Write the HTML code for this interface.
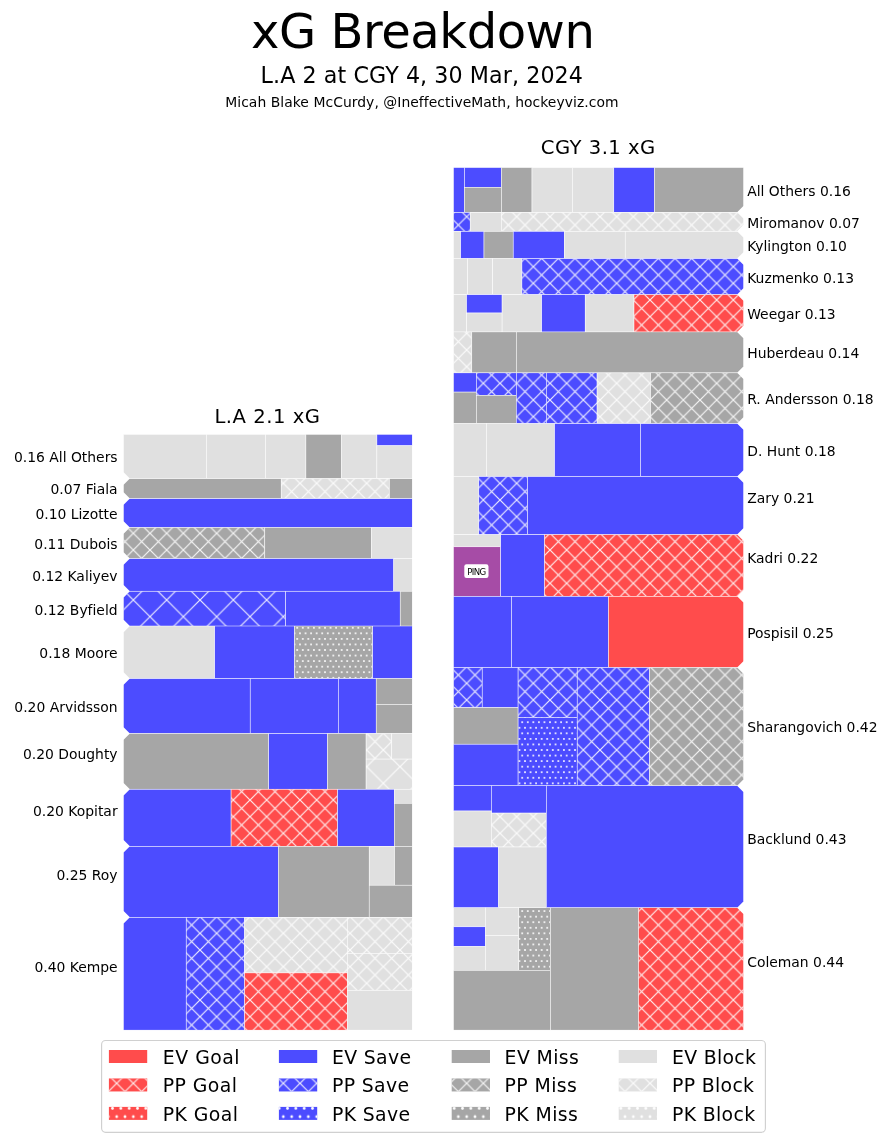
<!DOCTYPE html>
<html><head><meta charset="utf-8"><title>xG Breakdown</title>
<style>
html,body{margin:0;padding:0;background:#fff;}
svg{display:block;will-change:transform;}
text{font-family:"DejaVu Sans","Liberation Sans",sans-serif;fill:#000;font-variant-ligatures:none;font-feature-settings:"liga" 0,"clig" 0;}
.lb{font-size:13.9px;}
</style></head><body>
<svg width="891" height="1142" viewBox="0 0 891 1142">
<defs><pattern id="hxx" patternUnits="userSpaceOnUse" x="0" y="0" width="16.6667" height="16.6667"><path d="M-2,14.6667L18.6667,35.3333M-2,-2L18.6667,18.6667M-2,-18.6667L18.6667,2M-2,2L18.6667,-18.6667M-2,18.6667L18.6667,-2M-2,35.3333L18.6667,14.6667" stroke="#fff" stroke-opacity="0.88" stroke-width="1.2" fill="none"/></pattern>
<pattern id="hx" patternUnits="userSpaceOnUse" x="0" y="0" width="33.3333" height="33.3333"><path d="M-2,31.3333L35.3333,68.6667M-2,-2L35.3333,35.3333M-2,-35.3333L35.3333,2M-2,2L35.3333,-35.3333M-2,35.3333L35.3333,-2M-2,68.6667L35.3333,31.3333" stroke="#fff" stroke-opacity="0.88" stroke-width="1.2" fill="none"/></pattern>
<pattern id="hdots" patternUnits="userSpaceOnUse" x="0" y="0" width="5.5556" height="11.1111"><circle cx="0" cy="0" r="1" fill="#fff"/><circle cx="5.5556" cy="0" r="1" fill="#fff"/><circle cx="0" cy="11.1111" r="1" fill="#fff"/><circle cx="5.5556" cy="11.1111" r="1" fill="#fff"/><circle cx="2.7778" cy="5.5556" r="1" fill="#fff"/></pattern>
<pattern id="hdots2" patternUnits="userSpaceOnUse" x="0" y="0" width="8.3333" height="16.6667"><circle cx="0" cy="0" r="1.4" fill="#fff"/><circle cx="8.3333" cy="0" r="1.4" fill="#fff"/><circle cx="0" cy="16.6667" r="1.4" fill="#fff"/><circle cx="8.3333" cy="16.6667" r="1.4" fill="#fff"/><circle cx="4.1667" cy="8.3333" r="1.4" fill="#fff"/></pattern>
<clipPath id="c0"><polygon points="453.4,167.4 743.65,167.4 743.65,167.4 743.65,205.85 737.15,212.35 453.4,212.35"/></clipPath>
<clipPath id="c1"><polygon points="453.4,212.35 737.15,212.35 743.65,218.85 743.65,224.8 737.15,231.3 453.4,231.3"/></clipPath>
<clipPath id="c2"><polygon points="453.4,231.3 737.15,231.3 743.65,237.8 743.65,252 737.15,258.5 453.4,258.5"/></clipPath>
<clipPath id="c3"><polygon points="453.4,258.5 737.15,258.5 743.65,265 743.65,288.1 737.15,294.6 453.4,294.6"/></clipPath>
<clipPath id="c4"><polygon points="453.4,294.6 737.15,294.6 743.65,301.1 743.65,325.4 737.15,331.9 453.4,331.9"/></clipPath>
<clipPath id="c5"><polygon points="453.4,331.9 737.15,331.9 743.65,338.4 743.65,366.35 737.15,372.85 453.4,372.85"/></clipPath>
<clipPath id="c6"><polygon points="453.4,372.85 737.15,372.85 743.65,379.35 743.65,417 737.15,423.5 453.4,423.5"/></clipPath>
<clipPath id="c7"><polygon points="453.4,423.5 737.15,423.5 743.65,430 743.65,469.9 737.15,476.4 453.4,476.4"/></clipPath>
<clipPath id="c8"><polygon points="453.4,476.4 737.15,476.4 743.65,482.9 743.65,528.1 737.15,534.6 453.4,534.6"/></clipPath>
<clipPath id="c9"><polygon points="453.4,534.6 737.15,534.6 743.65,541.1 743.65,589.8 737.15,596.3 453.4,596.3"/></clipPath>
<clipPath id="c10"><polygon points="453.4,596.3 737.15,596.3 743.65,602.8 743.65,660.9 737.15,667.4 453.4,667.4"/></clipPath>
<clipPath id="c11"><polygon points="453.4,667.4 737.15,667.4 743.65,673.9 743.65,779.2 737.15,785.7 453.4,785.7"/></clipPath>
<clipPath id="c12"><polygon points="453.4,785.7 737.15,785.7 743.65,792.2 743.65,901.2 737.15,907.7 453.4,907.7"/></clipPath>
<clipPath id="c13"><polygon points="453.4,907.7 737.15,907.7 743.65,914.2 743.65,1030.15 743.65,1030.15 453.4,1030.15"/></clipPath>
<clipPath id="l0"><polygon points="123.35,434.3 412.3,434.3 412.3,478.6 129.85,478.6 123.35,472.1 123.35,434.3"/></clipPath>
<clipPath id="l1"><polygon points="129.85,478.6 412.3,478.6 412.3,498.6 129.85,498.6 123.35,492.1 123.35,485.1"/></clipPath>
<clipPath id="l2"><polygon points="129.85,498.6 412.3,498.6 412.3,527.4 129.85,527.4 123.35,520.9 123.35,505.1"/></clipPath>
<clipPath id="l3"><polygon points="129.85,527.4 412.3,527.4 412.3,558.5 129.85,558.5 123.35,552 123.35,533.9"/></clipPath>
<clipPath id="l4"><polygon points="129.85,558.5 412.3,558.5 412.3,591.2 129.85,591.2 123.35,584.7 123.35,565"/></clipPath>
<clipPath id="l5"><polygon points="129.85,591.2 412.3,591.2 412.3,626 129.85,626 123.35,619.5 123.35,597.7"/></clipPath>
<clipPath id="l6"><polygon points="129.85,626 412.3,626 412.3,678.5 129.85,678.5 123.35,672 123.35,632.5"/></clipPath>
<clipPath id="l7"><polygon points="129.85,678.5 412.3,678.5 412.3,733.4 129.85,733.4 123.35,726.9 123.35,685"/></clipPath>
<clipPath id="l8"><polygon points="129.85,733.4 412.3,733.4 412.3,789.2 129.85,789.2 123.35,782.7 123.35,739.9"/></clipPath>
<clipPath id="l9"><polygon points="129.85,789.2 412.3,789.2 412.3,846.3 129.85,846.3 123.35,839.8 123.35,795.7"/></clipPath>
<clipPath id="l10"><polygon points="129.85,846.3 412.3,846.3 412.3,917.3 129.85,917.3 123.35,910.8 123.35,852.8"/></clipPath>
<clipPath id="l11"><polygon points="129.85,917.3 412.3,917.3 412.3,1030.15 123.35,1030.15 123.35,1030.15 123.35,923.8"/></clipPath></defs>
<g clip-path="url(#c0)"><rect x="453.4" y="167.4" width="11" height="44.95" fill="#4C4CFF"/><rect x="453.4" y="167.4" width="11" height="44.95" fill="none" stroke="#fff" stroke-width="0.5"/><rect x="464.4" y="167.4" width="37" height="19.9" fill="#4C4CFF"/><rect x="464.4" y="167.4" width="37" height="19.9" fill="none" stroke="#fff" stroke-width="0.5"/><rect x="464.4" y="187.3" width="37" height="25.05" fill="#A6A6A6"/><rect x="464.4" y="187.3" width="37" height="25.05" fill="none" stroke="#fff" stroke-width="0.5"/><rect x="501.4" y="167.4" width="30.6" height="44.95" fill="#A6A6A6"/><rect x="501.4" y="167.4" width="30.6" height="44.95" fill="none" stroke="#fff" stroke-width="0.5"/><rect x="532" y="167.4" width="40.4" height="44.95" fill="#E0E0E0"/><rect x="532" y="167.4" width="40.4" height="44.95" fill="none" stroke="#fff" stroke-width="0.5"/><rect x="572.4" y="167.4" width="41.4" height="44.95" fill="#E0E0E0"/><rect x="572.4" y="167.4" width="41.4" height="44.95" fill="none" stroke="#fff" stroke-width="0.5"/><rect x="613.8" y="167.4" width="40.7" height="44.95" fill="#4C4CFF"/><rect x="613.8" y="167.4" width="40.7" height="44.95" fill="none" stroke="#fff" stroke-width="0.5"/><rect x="654.5" y="167.4" width="89.15" height="44.95" fill="#A6A6A6"/><rect x="654.5" y="167.4" width="89.15" height="44.95" fill="none" stroke="#fff" stroke-width="0.5"/></g>
<text x="747.2" y="195.8" class="lb">All Others 0.16</text>
<g clip-path="url(#c1)"><rect x="453.4" y="212.35" width="16.8" height="18.95" fill="#4C4CFF"/><rect x="453.4" y="212.35" width="16.8" height="18.95" fill="url(#hxx)"/><rect x="453.4" y="212.35" width="16.8" height="18.95" fill="none" stroke="#fff" stroke-width="0.5"/><rect x="470.2" y="212.35" width="31.1" height="18.95" fill="#E0E0E0"/><rect x="470.2" y="212.35" width="31.1" height="18.95" fill="none" stroke="#fff" stroke-width="0.5"/><rect x="501.3" y="212.35" width="242.35" height="18.95" fill="#E0E0E0"/><rect x="501.3" y="212.35" width="242.35" height="18.95" fill="url(#hxx)"/><rect x="501.3" y="212.35" width="242.35" height="18.95" fill="none" stroke="#fff" stroke-width="0.5"/></g>
<text x="747.2" y="227.5" class="lb">Miromanov 0.07</text>
<g clip-path="url(#c2)"><rect x="453.4" y="231.3" width="7.3" height="27.2" fill="#E0E0E0"/><rect x="453.4" y="231.3" width="7.3" height="27.2" fill="none" stroke="#fff" stroke-width="0.5"/><rect x="460.7" y="231.3" width="23.3" height="27.2" fill="#4C4CFF"/><rect x="460.7" y="231.3" width="23.3" height="27.2" fill="none" stroke="#fff" stroke-width="0.5"/><rect x="484" y="231.3" width="29.2" height="27.2" fill="#A6A6A6"/><rect x="484" y="231.3" width="29.2" height="27.2" fill="none" stroke="#fff" stroke-width="0.5"/><rect x="513.2" y="231.3" width="51.1" height="27.2" fill="#4C4CFF"/><rect x="513.2" y="231.3" width="51.1" height="27.2" fill="none" stroke="#fff" stroke-width="0.5"/><rect x="564.3" y="231.3" width="60.9" height="27.2" fill="#E0E0E0"/><rect x="564.3" y="231.3" width="60.9" height="27.2" fill="none" stroke="#fff" stroke-width="0.5"/><rect x="625.2" y="231.3" width="118.45" height="27.2" fill="#E0E0E0"/><rect x="625.2" y="231.3" width="118.45" height="27.2" fill="none" stroke="#fff" stroke-width="0.5"/></g>
<text x="747.2" y="251" class="lb">Kylington 0.10</text>
<g clip-path="url(#c3)"><rect x="453.4" y="258.5" width="14.2" height="36.1" fill="#E0E0E0"/><rect x="453.4" y="258.5" width="14.2" height="36.1" fill="none" stroke="#fff" stroke-width="0.5"/><rect x="467.6" y="258.5" width="25.1" height="36.1" fill="#E0E0E0"/><rect x="467.6" y="258.5" width="25.1" height="36.1" fill="none" stroke="#fff" stroke-width="0.5"/><rect x="492.7" y="258.5" width="29.2" height="36.1" fill="#E0E0E0"/><rect x="492.7" y="258.5" width="29.2" height="36.1" fill="none" stroke="#fff" stroke-width="0.5"/><rect x="521.9" y="258.5" width="221.75" height="36.1" fill="#4C4CFF"/><rect x="521.9" y="258.5" width="221.75" height="36.1" fill="url(#hxx)"/><rect x="521.9" y="258.5" width="221.75" height="36.1" fill="none" stroke="#fff" stroke-width="0.5"/></g>
<text x="747.2" y="282.9" class="lb">Kuzmenko 0.13</text>
<g clip-path="url(#c4)"><rect x="453.4" y="294.6" width="13.2" height="37.3" fill="#E0E0E0"/><rect x="453.4" y="294.6" width="13.2" height="37.3" fill="none" stroke="#fff" stroke-width="0.5"/><rect x="466.6" y="294.6" width="35.5" height="18.4" fill="#4C4CFF"/><rect x="466.6" y="294.6" width="35.5" height="18.4" fill="none" stroke="#fff" stroke-width="0.5"/><rect x="466.6" y="313" width="35.5" height="18.9" fill="#E0E0E0"/><rect x="466.6" y="313" width="35.5" height="18.9" fill="none" stroke="#fff" stroke-width="0.5"/><rect x="502.1" y="294.6" width="39.6" height="37.3" fill="#E0E0E0"/><rect x="502.1" y="294.6" width="39.6" height="37.3" fill="none" stroke="#fff" stroke-width="0.5"/><rect x="541.7" y="294.6" width="43.5" height="37.3" fill="#4C4CFF"/><rect x="541.7" y="294.6" width="43.5" height="37.3" fill="none" stroke="#fff" stroke-width="0.5"/><rect x="585.2" y="294.6" width="48.8" height="37.3" fill="#E0E0E0"/><rect x="585.2" y="294.6" width="48.8" height="37.3" fill="none" stroke="#fff" stroke-width="0.5"/><rect x="634" y="294.6" width="109.65" height="37.3" fill="#FF4C4C"/><rect x="634" y="294.6" width="109.65" height="37.3" fill="url(#hxx)"/><rect x="634" y="294.6" width="109.65" height="37.3" fill="none" stroke="#fff" stroke-width="0.5"/></g>
<text x="747.2" y="318.5" class="lb">Weegar 0.13</text>
<g clip-path="url(#c5)"><rect x="453.4" y="331.9" width="18.4" height="40.95" fill="#E0E0E0"/><rect x="453.4" y="331.9" width="18.4" height="40.95" fill="url(#hxx)"/><rect x="453.4" y="331.9" width="18.4" height="40.95" fill="none" stroke="#fff" stroke-width="0.5"/><rect x="471.8" y="331.9" width="44.5" height="40.95" fill="#A6A6A6"/><rect x="471.8" y="331.9" width="44.5" height="40.95" fill="none" stroke="#fff" stroke-width="0.5"/><rect x="516.3" y="331.9" width="227.35" height="40.95" fill="#A6A6A6"/><rect x="516.3" y="331.9" width="227.35" height="40.95" fill="none" stroke="#fff" stroke-width="0.5"/></g>
<text x="747.2" y="357.8" class="lb">Huberdeau 0.14</text>
<g clip-path="url(#c6)"><rect x="453.4" y="372.85" width="22.9" height="19.25" fill="#4C4CFF"/><rect x="453.4" y="372.85" width="22.9" height="19.25" fill="none" stroke="#fff" stroke-width="0.5"/><rect x="453.4" y="392.1" width="22.9" height="31.4" fill="#A6A6A6"/><rect x="453.4" y="392.1" width="22.9" height="31.4" fill="none" stroke="#fff" stroke-width="0.5"/><rect x="476.3" y="372.85" width="40" height="22.45" fill="#4C4CFF"/><rect x="476.3" y="372.85" width="40" height="22.45" fill="url(#hxx)"/><rect x="476.3" y="372.85" width="40" height="22.45" fill="none" stroke="#fff" stroke-width="0.5"/><rect x="476.3" y="395.3" width="40" height="28.2" fill="#A6A6A6"/><rect x="476.3" y="395.3" width="40" height="28.2" fill="none" stroke="#fff" stroke-width="0.5"/><rect x="516.3" y="372.85" width="30" height="50.65" fill="#4C4CFF"/><rect x="516.3" y="372.85" width="30" height="50.65" fill="url(#hxx)"/><rect x="516.3" y="372.85" width="30" height="50.65" fill="none" stroke="#fff" stroke-width="0.5"/><rect x="546.3" y="372.85" width="50.8" height="50.65" fill="#4C4CFF"/><rect x="546.3" y="372.85" width="50.8" height="50.65" fill="url(#hxx)"/><rect x="546.3" y="372.85" width="50.8" height="50.65" fill="none" stroke="#fff" stroke-width="0.5"/><rect x="597.1" y="372.85" width="53.5" height="50.65" fill="#E0E0E0"/><rect x="597.1" y="372.85" width="53.5" height="50.65" fill="url(#hxx)"/><rect x="597.1" y="372.85" width="53.5" height="50.65" fill="none" stroke="#fff" stroke-width="0.5"/><rect x="650.6" y="372.85" width="93.05" height="50.65" fill="#A6A6A6"/><rect x="650.6" y="372.85" width="93.05" height="50.65" fill="url(#hxx)"/><rect x="650.6" y="372.85" width="93.05" height="50.65" fill="none" stroke="#fff" stroke-width="0.5"/></g>
<text x="747.2" y="403.7" class="lb">R. Andersson 0.18</text>
<g clip-path="url(#c7)"><rect x="453.4" y="423.5" width="33" height="52.9" fill="#E0E0E0"/><rect x="453.4" y="423.5" width="33" height="52.9" fill="none" stroke="#fff" stroke-width="0.5"/><rect x="486.4" y="423.5" width="68.2" height="52.9" fill="#E0E0E0"/><rect x="486.4" y="423.5" width="68.2" height="52.9" fill="none" stroke="#fff" stroke-width="0.5"/><rect x="554.6" y="423.5" width="85.9" height="52.9" fill="#4C4CFF"/><rect x="554.6" y="423.5" width="85.9" height="52.9" fill="none" stroke="#fff" stroke-width="0.5"/><rect x="640.5" y="423.5" width="103.15" height="52.9" fill="#4C4CFF"/><rect x="640.5" y="423.5" width="103.15" height="52.9" fill="none" stroke="#fff" stroke-width="0.5"/></g>
<text x="747.2" y="455.6" class="lb">D. Hunt 0.18</text>
<g clip-path="url(#c8)"><rect x="453.4" y="476.4" width="25.4" height="58.2" fill="#E0E0E0"/><rect x="453.4" y="476.4" width="25.4" height="58.2" fill="none" stroke="#fff" stroke-width="0.5"/><rect x="478.8" y="476.4" width="48.7" height="58.2" fill="#4C4CFF"/><rect x="478.8" y="476.4" width="48.7" height="58.2" fill="url(#hxx)"/><rect x="478.8" y="476.4" width="48.7" height="58.2" fill="none" stroke="#fff" stroke-width="0.5"/><rect x="527.5" y="476.4" width="216.15" height="58.2" fill="#4C4CFF"/><rect x="527.5" y="476.4" width="216.15" height="58.2" fill="none" stroke="#fff" stroke-width="0.5"/></g>
<text x="747.2" y="502.5" class="lb">Zary 0.21</text>
<g clip-path="url(#c9)"><rect x="453.4" y="534.6" width="47.3" height="12.2" fill="#E0E0E0"/><rect x="453.4" y="534.6" width="47.3" height="12.2" fill="none" stroke="#fff" stroke-width="0.5"/><rect x="453.4" y="546.8" width="47.3" height="49.5" fill="#A64CA6"/><rect x="453.4" y="546.8" width="47.3" height="49.5" fill="none" stroke="#fff" stroke-width="0.5"/><rect x="500.7" y="534.6" width="43.8" height="61.7" fill="#4C4CFF"/><rect x="500.7" y="534.6" width="43.8" height="61.7" fill="none" stroke="#fff" stroke-width="0.5"/><rect x="544.5" y="534.6" width="199.15" height="61.7" fill="#FF4C4C"/><rect x="544.5" y="534.6" width="199.15" height="61.7" fill="url(#hxx)"/><rect x="544.5" y="534.6" width="199.15" height="61.7" fill="none" stroke="#fff" stroke-width="0.5"/></g>
<text x="747.2" y="562.7" class="lb">Kadri 0.22</text>
<g clip-path="url(#c10)"><rect x="453.4" y="596.3" width="58.1" height="71.1" fill="#4C4CFF"/><rect x="453.4" y="596.3" width="58.1" height="71.1" fill="none" stroke="#fff" stroke-width="0.5"/><rect x="511.5" y="596.3" width="97" height="71.1" fill="#4C4CFF"/><rect x="511.5" y="596.3" width="97" height="71.1" fill="none" stroke="#fff" stroke-width="0.5"/><rect x="608.5" y="596.3" width="135.15" height="71.1" fill="#FF4C4C"/><rect x="608.5" y="596.3" width="135.15" height="71.1" fill="none" stroke="#fff" stroke-width="0.5"/></g>
<text x="747.2" y="637.6" class="lb">Pospisil 0.25</text>
<g clip-path="url(#c11)"><rect x="453.4" y="667.4" width="28.8" height="40.3" fill="#4C4CFF"/><rect x="453.4" y="667.4" width="28.8" height="40.3" fill="url(#hxx)"/><rect x="453.4" y="667.4" width="28.8" height="40.3" fill="none" stroke="#fff" stroke-width="0.5"/><rect x="482.2" y="667.4" width="35.9" height="40.3" fill="#4C4CFF"/><rect x="482.2" y="667.4" width="35.9" height="40.3" fill="none" stroke="#fff" stroke-width="0.5"/><rect x="453.4" y="707.7" width="64.7" height="36.5" fill="#A6A6A6"/><rect x="453.4" y="707.7" width="64.7" height="36.5" fill="none" stroke="#fff" stroke-width="0.5"/><rect x="453.4" y="744.2" width="64.7" height="41.5" fill="#4C4CFF"/><rect x="453.4" y="744.2" width="64.7" height="41.5" fill="none" stroke="#fff" stroke-width="0.5"/><rect x="518.1" y="667.4" width="59.1" height="50" fill="#4C4CFF"/><rect x="518.1" y="667.4" width="59.1" height="50" fill="url(#hxx)"/><rect x="518.1" y="667.4" width="59.1" height="50" fill="none" stroke="#fff" stroke-width="0.5"/><rect x="518.1" y="717.4" width="59.1" height="68.3" fill="#4C4CFF"/><rect x="518.1" y="717.4" width="59.1" height="68.3" fill="url(#hdots)"/><rect x="518.1" y="717.4" width="59.1" height="68.3" fill="none" stroke="#fff" stroke-width="0.5"/><rect x="577.2" y="667.4" width="72.4" height="118.3" fill="#4C4CFF"/><rect x="577.2" y="667.4" width="72.4" height="118.3" fill="url(#hxx)"/><rect x="577.2" y="667.4" width="72.4" height="118.3" fill="none" stroke="#fff" stroke-width="0.5"/><rect x="649.6" y="667.4" width="94.05" height="118.3" fill="#A6A6A6"/><rect x="649.6" y="667.4" width="94.05" height="118.3" fill="url(#hxx)"/><rect x="649.6" y="667.4" width="94.05" height="118.3" fill="none" stroke="#fff" stroke-width="0.5"/></g>
<text x="747.2" y="731.9" class="lb">Sharangovich 0.42</text>
<g clip-path="url(#c12)"><rect x="453.4" y="785.7" width="37.9" height="25.3" fill="#4C4CFF"/><rect x="453.4" y="785.7" width="37.9" height="25.3" fill="none" stroke="#fff" stroke-width="0.5"/><rect x="491.3" y="785.7" width="55" height="27.4" fill="#4C4CFF"/><rect x="491.3" y="785.7" width="55" height="27.4" fill="none" stroke="#fff" stroke-width="0.5"/><rect x="453.4" y="811" width="37.9" height="36" fill="#E0E0E0"/><rect x="453.4" y="811" width="37.9" height="36" fill="none" stroke="#fff" stroke-width="0.5"/><rect x="491.3" y="813.1" width="55" height="33.9" fill="#E0E0E0"/><rect x="491.3" y="813.1" width="55" height="33.9" fill="url(#hxx)"/><rect x="491.3" y="813.1" width="55" height="33.9" fill="none" stroke="#fff" stroke-width="0.5"/><rect x="453.4" y="847" width="45.2" height="60.7" fill="#4C4CFF"/><rect x="453.4" y="847" width="45.2" height="60.7" fill="none" stroke="#fff" stroke-width="0.5"/><rect x="498.6" y="847" width="47.7" height="60.7" fill="#E0E0E0"/><rect x="498.6" y="847" width="47.7" height="60.7" fill="none" stroke="#fff" stroke-width="0.5"/><rect x="546.3" y="785.7" width="197.35" height="122" fill="#4C4CFF"/><rect x="546.3" y="785.7" width="197.35" height="122" fill="none" stroke="#fff" stroke-width="0.5"/></g>
<text x="747.2" y="844" class="lb">Backlund 0.43</text>
<g clip-path="url(#c13)"><rect x="453.4" y="907.7" width="32" height="19.1" fill="#E0E0E0"/><rect x="453.4" y="907.7" width="32" height="19.1" fill="none" stroke="#fff" stroke-width="0.5"/><rect x="453.4" y="926.8" width="32" height="19.7" fill="#4C4CFF"/><rect x="453.4" y="926.8" width="32" height="19.7" fill="none" stroke="#fff" stroke-width="0.5"/><rect x="453.4" y="946.5" width="32" height="23.8" fill="#E0E0E0"/><rect x="453.4" y="946.5" width="32" height="23.8" fill="none" stroke="#fff" stroke-width="0.5"/><rect x="485.4" y="907.7" width="33.4" height="27.8" fill="#E0E0E0"/><rect x="485.4" y="907.7" width="33.4" height="27.8" fill="none" stroke="#fff" stroke-width="0.5"/><rect x="485.4" y="935.5" width="33.4" height="34.8" fill="#E0E0E0"/><rect x="485.4" y="935.5" width="33.4" height="34.8" fill="none" stroke="#fff" stroke-width="0.5"/><rect x="518.8" y="907.7" width="31.6" height="62.6" fill="#A6A6A6"/><rect x="518.8" y="907.7" width="31.6" height="62.6" fill="url(#hdots)"/><rect x="518.8" y="907.7" width="31.6" height="62.6" fill="none" stroke="#fff" stroke-width="0.5"/><rect x="453.4" y="970.3" width="97" height="59.85" fill="#A6A6A6"/><rect x="453.4" y="970.3" width="97" height="59.85" fill="none" stroke="#fff" stroke-width="0.5"/><rect x="550.4" y="907.7" width="88.1" height="122.45" fill="#A6A6A6"/><rect x="550.4" y="907.7" width="88.1" height="122.45" fill="none" stroke="#fff" stroke-width="0.5"/><rect x="638.5" y="907.7" width="105.15" height="122.45" fill="#FF4C4C"/><rect x="638.5" y="907.7" width="105.15" height="122.45" fill="url(#hxx)"/><rect x="638.5" y="907.7" width="105.15" height="122.45" fill="none" stroke="#fff" stroke-width="0.5"/></g>
<text x="747.2" y="967" class="lb">Coleman 0.44</text>
<g clip-path="url(#l0)"><rect x="123.35" y="434.3" width="83.05" height="44.3" fill="#E0E0E0"/><rect x="123.35" y="434.3" width="83.05" height="44.3" fill="none" stroke="#fff" stroke-width="0.5"/><rect x="206.4" y="434.3" width="59.1" height="44.3" fill="#E0E0E0"/><rect x="206.4" y="434.3" width="59.1" height="44.3" fill="none" stroke="#fff" stroke-width="0.5"/><rect x="265.5" y="434.3" width="40.4" height="44.3" fill="#E0E0E0"/><rect x="265.5" y="434.3" width="40.4" height="44.3" fill="none" stroke="#fff" stroke-width="0.5"/><rect x="305.9" y="434.3" width="35.7" height="44.3" fill="#A6A6A6"/><rect x="305.9" y="434.3" width="35.7" height="44.3" fill="none" stroke="#fff" stroke-width="0.5"/><rect x="341.6" y="434.3" width="35.3" height="44.3" fill="#E0E0E0"/><rect x="341.6" y="434.3" width="35.3" height="44.3" fill="none" stroke="#fff" stroke-width="0.5"/><rect x="376.9" y="434.3" width="35.4" height="11.5" fill="#4C4CFF"/><rect x="376.9" y="434.3" width="35.4" height="11.5" fill="none" stroke="#fff" stroke-width="0.5"/><rect x="376.9" y="445.8" width="35.4" height="32.8" fill="#E0E0E0"/><rect x="376.9" y="445.8" width="35.4" height="32.8" fill="none" stroke="#fff" stroke-width="0.5"/></g>
<text x="117.6" y="461.9" class="lb" text-anchor="end">0.16 All Others</text>
<g clip-path="url(#l1)"><rect x="123.35" y="478.6" width="157.85" height="20" fill="#A6A6A6"/><rect x="123.35" y="478.6" width="157.85" height="20" fill="none" stroke="#fff" stroke-width="0.5"/><rect x="281.2" y="478.6" width="108.2" height="20" fill="#E0E0E0"/><rect x="281.2" y="478.6" width="108.2" height="20" fill="url(#hxx)"/><rect x="281.2" y="478.6" width="108.2" height="20" fill="none" stroke="#fff" stroke-width="0.5"/><rect x="389.4" y="478.6" width="22.9" height="20" fill="#A6A6A6"/><rect x="389.4" y="478.6" width="22.9" height="20" fill="none" stroke="#fff" stroke-width="0.5"/></g>
<text x="117.6" y="493.7" class="lb" text-anchor="end">0.07 Fiala</text>
<g clip-path="url(#l2)"><rect x="123.35" y="498.6" width="288.95" height="28.8" fill="#4C4CFF"/><rect x="123.35" y="498.6" width="288.95" height="28.8" fill="none" stroke="#fff" stroke-width="0.5"/></g>
<text x="117.6" y="518.8" class="lb" text-anchor="end">0.10 Lizotte</text>
<g clip-path="url(#l3)"><rect x="123.35" y="527.4" width="141.45" height="31.1" fill="#A6A6A6"/><rect x="123.35" y="527.4" width="141.45" height="31.1" fill="url(#hxx)"/><rect x="123.35" y="527.4" width="141.45" height="31.1" fill="none" stroke="#fff" stroke-width="0.5"/><rect x="264.8" y="527.4" width="106.5" height="31.1" fill="#A6A6A6"/><rect x="264.8" y="527.4" width="106.5" height="31.1" fill="none" stroke="#fff" stroke-width="0.5"/><rect x="371.3" y="527.4" width="41" height="31.1" fill="#E0E0E0"/><rect x="371.3" y="527.4" width="41" height="31.1" fill="none" stroke="#fff" stroke-width="0.5"/></g>
<text x="117.6" y="548.7" class="lb" text-anchor="end">0.11 Dubois</text>
<g clip-path="url(#l4)"><rect x="123.35" y="558.5" width="270.45" height="32.7" fill="#4C4CFF"/><rect x="123.35" y="558.5" width="270.45" height="32.7" fill="none" stroke="#fff" stroke-width="0.5"/><rect x="393.8" y="558.5" width="18.5" height="32.7" fill="#E0E0E0"/><rect x="393.8" y="558.5" width="18.5" height="32.7" fill="none" stroke="#fff" stroke-width="0.5"/></g>
<text x="117.6" y="580.8" class="lb" text-anchor="end">0.12 Kaliyev</text>
<g clip-path="url(#l5)"><rect x="123.35" y="591.2" width="162.25" height="34.8" fill="#4C4CFF"/><rect x="123.35" y="591.2" width="162.25" height="34.8" fill="url(#hx)"/><rect x="123.35" y="591.2" width="162.25" height="34.8" fill="none" stroke="#fff" stroke-width="0.5"/><rect x="285.6" y="591.2" width="114.6" height="34.8" fill="#4C4CFF"/><rect x="285.6" y="591.2" width="114.6" height="34.8" fill="none" stroke="#fff" stroke-width="0.5"/><rect x="400.2" y="591.2" width="12.1" height="34.8" fill="#A6A6A6"/><rect x="400.2" y="591.2" width="12.1" height="34.8" fill="none" stroke="#fff" stroke-width="0.5"/></g>
<text x="117.6" y="614.6" class="lb" text-anchor="end">0.12 Byfield</text>
<g clip-path="url(#l6)"><rect x="123.35" y="626" width="91.35" height="52.5" fill="#E0E0E0"/><rect x="123.35" y="626" width="91.35" height="52.5" fill="none" stroke="#fff" stroke-width="0.5"/><rect x="214.7" y="626" width="79.9" height="52.5" fill="#4C4CFF"/><rect x="214.7" y="626" width="79.9" height="52.5" fill="none" stroke="#fff" stroke-width="0.5"/><rect x="294.6" y="626" width="78.1" height="52.5" fill="#A6A6A6"/><rect x="294.6" y="626" width="78.1" height="52.5" fill="url(#hdots)"/><rect x="294.6" y="626" width="78.1" height="52.5" fill="none" stroke="#fff" stroke-width="0.5"/><rect x="372.7" y="626" width="39.6" height="52.5" fill="#4C4CFF"/><rect x="372.7" y="626" width="39.6" height="52.5" fill="none" stroke="#fff" stroke-width="0.5"/></g>
<text x="117.6" y="658" class="lb" text-anchor="end">0.18 Moore</text>
<g clip-path="url(#l7)"><rect x="123.35" y="678.5" width="126.85" height="54.9" fill="#4C4CFF"/><rect x="123.35" y="678.5" width="126.85" height="54.9" fill="none" stroke="#fff" stroke-width="0.5"/><rect x="250.2" y="678.5" width="88.1" height="54.9" fill="#4C4CFF"/><rect x="250.2" y="678.5" width="88.1" height="54.9" fill="none" stroke="#fff" stroke-width="0.5"/><rect x="338.3" y="678.5" width="37.9" height="54.9" fill="#4C4CFF"/><rect x="338.3" y="678.5" width="37.9" height="54.9" fill="none" stroke="#fff" stroke-width="0.5"/><rect x="376.2" y="678.5" width="36.1" height="25.9" fill="#A6A6A6"/><rect x="376.2" y="678.5" width="36.1" height="25.9" fill="none" stroke="#fff" stroke-width="0.5"/><rect x="376.2" y="704.4" width="36.1" height="29" fill="#A6A6A6"/><rect x="376.2" y="704.4" width="36.1" height="29" fill="none" stroke="#fff" stroke-width="0.5"/></g>
<text x="117.6" y="711.9" class="lb" text-anchor="end">0.20 Arvidsson</text>
<g clip-path="url(#l8)"><rect x="123.35" y="733.4" width="145.35" height="55.8" fill="#A6A6A6"/><rect x="123.35" y="733.4" width="145.35" height="55.8" fill="none" stroke="#fff" stroke-width="0.5"/><rect x="268.7" y="733.4" width="58.8" height="55.8" fill="#4C4CFF"/><rect x="268.7" y="733.4" width="58.8" height="55.8" fill="none" stroke="#fff" stroke-width="0.5"/><rect x="327.5" y="733.4" width="38.6" height="55.8" fill="#A6A6A6"/><rect x="327.5" y="733.4" width="38.6" height="55.8" fill="none" stroke="#fff" stroke-width="0.5"/><rect x="366.1" y="733.4" width="25.7" height="25.7" fill="#E0E0E0"/><rect x="366.1" y="733.4" width="25.7" height="25.7" fill="url(#hxx)"/><rect x="366.1" y="733.4" width="25.7" height="25.7" fill="none" stroke="#fff" stroke-width="0.5"/><rect x="391.8" y="733.4" width="20.5" height="25.7" fill="#E0E0E0"/><rect x="391.8" y="733.4" width="20.5" height="25.7" fill="none" stroke="#fff" stroke-width="0.5"/><rect x="366.1" y="759.1" width="46.2" height="30.1" fill="#E0E0E0"/><rect x="366.1" y="759.1" width="46.2" height="30.1" fill="url(#hx)"/><rect x="366.1" y="759.1" width="46.2" height="30.1" fill="none" stroke="#fff" stroke-width="0.5"/></g>
<text x="117.6" y="758.6" class="lb" text-anchor="end">0.20 Doughty</text>
<g clip-path="url(#l9)"><rect x="123.35" y="789.2" width="107.75" height="57.1" fill="#4C4CFF"/><rect x="123.35" y="789.2" width="107.75" height="57.1" fill="none" stroke="#fff" stroke-width="0.5"/><rect x="231.1" y="789.2" width="106.5" height="57.1" fill="#FF4C4C"/><rect x="231.1" y="789.2" width="106.5" height="57.1" fill="url(#hxx)"/><rect x="231.1" y="789.2" width="106.5" height="57.1" fill="none" stroke="#fff" stroke-width="0.5"/><rect x="337.6" y="789.2" width="56.7" height="57.1" fill="#4C4CFF"/><rect x="337.6" y="789.2" width="56.7" height="57.1" fill="none" stroke="#fff" stroke-width="0.5"/><rect x="394.3" y="789.2" width="18" height="14.1" fill="#E0E0E0"/><rect x="394.3" y="789.2" width="18" height="14.1" fill="none" stroke="#fff" stroke-width="0.5"/><rect x="394.3" y="803.3" width="18" height="43" fill="#A6A6A6"/><rect x="394.3" y="803.3" width="18" height="43" fill="none" stroke="#fff" stroke-width="0.5"/></g>
<text x="117.6" y="815.5" class="lb" text-anchor="end">0.20 Kopitar</text>
<g clip-path="url(#l10)"><rect x="123.35" y="846.3" width="155.05" height="71" fill="#4C4CFF"/><rect x="123.35" y="846.3" width="155.05" height="71" fill="none" stroke="#fff" stroke-width="0.5"/><rect x="278.4" y="846.3" width="90.8" height="71" fill="#A6A6A6"/><rect x="278.4" y="846.3" width="90.8" height="71" fill="none" stroke="#fff" stroke-width="0.5"/><rect x="369.2" y="846.3" width="25.4" height="38.9" fill="#E0E0E0"/><rect x="369.2" y="846.3" width="25.4" height="38.9" fill="none" stroke="#fff" stroke-width="0.5"/><rect x="394.6" y="846.3" width="17.7" height="38.9" fill="#A6A6A6"/><rect x="394.6" y="846.3" width="17.7" height="38.9" fill="none" stroke="#fff" stroke-width="0.5"/><rect x="369.2" y="885.2" width="43.1" height="32.1" fill="#A6A6A6"/><rect x="369.2" y="885.2" width="43.1" height="32.1" fill="none" stroke="#fff" stroke-width="0.5"/></g>
<text x="117.6" y="879.9" class="lb" text-anchor="end">0.25 Roy</text>
<g clip-path="url(#l11)"><rect x="123.35" y="917.3" width="62.85" height="112.85" fill="#4C4CFF"/><rect x="123.35" y="917.3" width="62.85" height="112.85" fill="none" stroke="#fff" stroke-width="0.5"/><rect x="186.2" y="917.3" width="58.4" height="112.85" fill="#4C4CFF"/><rect x="186.2" y="917.3" width="58.4" height="112.85" fill="url(#hxx)"/><rect x="186.2" y="917.3" width="58.4" height="112.85" fill="none" stroke="#fff" stroke-width="0.5"/><rect x="244.6" y="917.3" width="102.7" height="55.6" fill="#E0E0E0"/><rect x="244.6" y="917.3" width="102.7" height="55.6" fill="url(#hxx)"/><rect x="244.6" y="917.3" width="102.7" height="55.6" fill="none" stroke="#fff" stroke-width="0.5"/><rect x="244.6" y="972.9" width="102.7" height="57.25" fill="#FF4C4C"/><rect x="244.6" y="972.9" width="102.7" height="57.25" fill="url(#hxx)"/><rect x="244.6" y="972.9" width="102.7" height="57.25" fill="none" stroke="#fff" stroke-width="0.5"/><rect x="347.3" y="917.3" width="65" height="36.1" fill="#E0E0E0"/><rect x="347.3" y="917.3" width="65" height="36.1" fill="url(#hxx)"/><rect x="347.3" y="917.3" width="65" height="36.1" fill="none" stroke="#fff" stroke-width="0.5"/><rect x="347.3" y="953.4" width="65" height="36.9" fill="#E0E0E0"/><rect x="347.3" y="953.4" width="65" height="36.9" fill="url(#hxx)"/><rect x="347.3" y="953.4" width="65" height="36.9" fill="none" stroke="#fff" stroke-width="0.5"/><rect x="347.3" y="990.3" width="65" height="39.85" fill="#E0E0E0"/><rect x="347.3" y="990.3" width="65" height="39.85" fill="none" stroke="#fff" stroke-width="0.5"/></g>
<text x="117.6" y="971.5" class="lb" text-anchor="end">0.40 Kempe</text>
<rect x="464.3" y="564.2" width="24.2" height="13.8" rx="2.2" fill="#fff"/>
<text x="476.4" y="574.6" text-anchor="middle" style="font-size:8.6px;letter-spacing:-0.6px">PING</text>
<text id="t_title" x="251" y="47.8" style="font-size:48px" textLength="343.83" lengthAdjust="spacing">xG Breakdown</text>
<text id="t_sub" x="260.6" y="82.9" style="font-size:22.2px" textLength="322.3" lengthAdjust="spacing">L.A 2 at CGY 4, 30 Mar, 2024</text>
<text id="t_cred" x="225.2" y="106.8" style="font-size:13.9px" textLength="393.25" lengthAdjust="spacing">Micah Blake McCurdy, @IneffectiveMath, hockeyviz.com</text>
<text id="t_cgy" x="540.8" y="153.7" style="font-size:19.6px" textLength="114.37" lengthAdjust="spacing">CGY 3.1 xG</text>
<text id="t_la" x="214.4" y="422.6" style="font-size:19.6px" textLength="105.65" lengthAdjust="spacing">L.A 2.1 xG</text>
<rect x="101.6" y="1040.5" width="663.8" height="91.8" rx="4" fill="#fff" stroke="#d0d0d0" stroke-width="1.15"/>
<rect x="108.9" y="1050" width="38.3" height="13" fill="#FF4C4C"/>
<text id="t_lg_EV_Goal" x="162.8" y="1064" style="font-size:18.85px" textLength="76.8" lengthAdjust="spacing">EV Goal</text>
<rect x="108.9" y="1078.45" width="38.3" height="13" fill="#FF4C4C"/>
<rect x="108.9" y="1078.45" width="38.3" height="13" fill="url(#hxx)"/>
<text id="t_lg_PP_Goal" x="162.8" y="1091.9" style="font-size:18.85px" textLength="74.24" lengthAdjust="spacing">PP Goal</text>
<rect x="108.9" y="1106.9" width="38.3" height="13" fill="#FF4C4C"/>
<rect x="108.9" y="1106.9" width="38.3" height="13" fill="url(#hdots2)"/>
<text id="t_lg_PK_Goal" x="162.8" y="1120.8" style="font-size:18.85px" textLength="75.23" lengthAdjust="spacing">PK Goal</text>
<rect x="278.9" y="1050" width="38.3" height="13" fill="#4C4CFF"/>
<text id="t_lg_EV_Save" x="332" y="1064" style="font-size:18.85px" textLength="79.05" lengthAdjust="spacing">EV Save</text>
<rect x="278.9" y="1078.45" width="38.3" height="13" fill="#4C4CFF"/>
<rect x="278.9" y="1078.45" width="38.3" height="13" fill="url(#hxx)"/>
<text id="t_lg_PP_Save" x="332" y="1091.9" style="font-size:18.85px" textLength="77.08" lengthAdjust="spacing">PP Save</text>
<rect x="278.9" y="1106.9" width="38.3" height="13" fill="#4C4CFF"/>
<rect x="278.9" y="1106.9" width="38.3" height="13" fill="url(#hdots2)"/>
<text id="t_lg_PK_Save" x="332" y="1120.8" style="font-size:18.85px" textLength="78.07" lengthAdjust="spacing">PK Save</text>
<rect x="451.7" y="1050" width="38.3" height="13" fill="#A6A6A6"/>
<text id="t_lg_EV_Miss" x="504.6" y="1064" style="font-size:18.85px" textLength="74.32" lengthAdjust="spacing">EV Miss</text>
<rect x="451.7" y="1078.45" width="38.3" height="13" fill="#A6A6A6"/>
<rect x="451.7" y="1078.45" width="38.3" height="13" fill="url(#hxx)"/>
<text id="t_lg_PP_Miss" x="504.6" y="1091.9" style="font-size:18.85px" textLength="72.26" lengthAdjust="spacing">PP Miss</text>
<rect x="451.7" y="1106.9" width="38.3" height="13" fill="#A6A6A6"/>
<rect x="451.7" y="1106.9" width="38.3" height="13" fill="url(#hdots2)"/>
<text id="t_lg_PK_Miss" x="504.6" y="1120.8" style="font-size:18.85px" textLength="73.24" lengthAdjust="spacing">PK Miss</text>
<rect x="618.7" y="1050" width="38.3" height="13" fill="#E0E0E0"/>
<text id="t_lg_EV_Block" x="672" y="1064" style="font-size:18.85px" textLength="83.97" lengthAdjust="spacing">EV Block</text>
<rect x="618.7" y="1078.45" width="38.3" height="13" fill="#E0E0E0"/>
<rect x="618.7" y="1078.45" width="38.3" height="13" fill="url(#hxx)"/>
<text id="t_lg_PP_Block" x="672" y="1091.9" style="font-size:18.85px" textLength="81.99" lengthAdjust="spacing">PP Block</text>
<rect x="618.7" y="1106.9" width="38.3" height="13" fill="#E0E0E0"/>
<rect x="618.7" y="1106.9" width="38.3" height="13" fill="url(#hdots2)"/>
<text id="t_lg_PK_Block" x="672" y="1120.8" style="font-size:18.85px" textLength="83.09" lengthAdjust="spacing">PK Block</text>
</svg>
</body></html>
